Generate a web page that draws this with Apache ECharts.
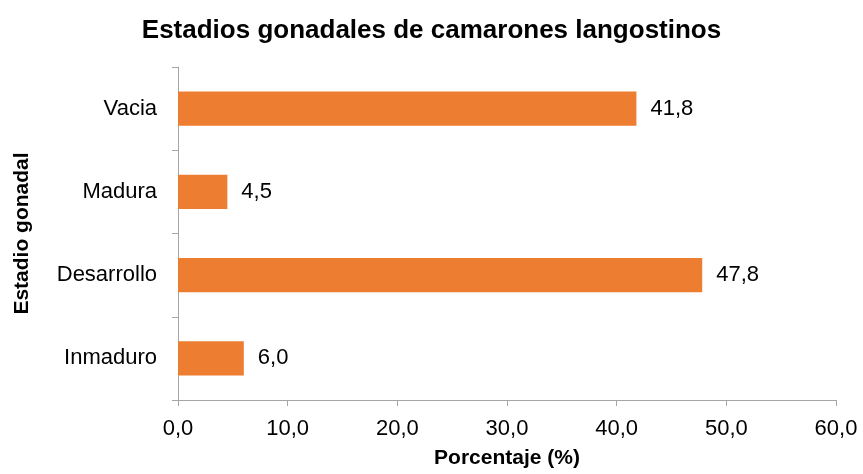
<!DOCTYPE html>
<html>
<head>
<meta charset="utf-8">
<script src="https://cdn.jsdelivr.net/npm/echarts@6/dist/echarts.min.js"></script>
<style>
  html, body { margin: 0; padding: 0; background: #fff; }
  #chart { width: 863px; height: 474px; }
</style>
</head>
<body>
<div id="chart"></div>
<script>
const titleText = 'Estadios gonadales de camarones langostinos';
const categories = ['Inmaduro', 'Desarrollo', 'Madura', 'Vacia'];
const values = [6.0, 47.8, 4.5, 41.8];
const xTicks = [0, 10, 20, 30, 40, 50, 60];
const xAxisName = 'Porcentaje (%)';
const yAxisName = 'Estadio gonadal';

const fmt = v => Number(v).toFixed(1).replace('.', ',');
const font = '"Liberation Sans", Arial, sans-serif';
const axisColor = '#a6a6a6';

const chart = echarts.init(document.getElementById('chart'));
chart.setOption({
  animation: false,
  backgroundColor: '#ffffff',
  title: {
    text: titleText,
    left: 'center',
    top: 13,
    textStyle: { fontFamily: font, fontSize: 26, fontWeight: 'bold', color: '#000' }
  },
  grid: { left: 178, right: 27, top: 67, bottom: 71, containLabel: false },
  xAxis: {
    type: 'value',
    min: xTicks[0],
    max: xTicks[xTicks.length - 1],
    interval: xTicks[1] - xTicks[0],
    name: xAxisName,
    nameLocation: 'middle',
    nameGap: 48,
    nameTextStyle: { fontFamily: font, fontSize: 21, fontWeight: 'bold', color: '#000' },
    axisLine: { show: true, lineStyle: { color: axisColor, width: 1 } },
    axisTick: { show: true, length: 6, lineStyle: { color: axisColor } },
    splitLine: { show: false },
    axisLabel: {
      margin: 18,
      fontFamily: font, fontSize: 22, color: '#000',
      formatter: v => fmt(v)
    }
  },
  yAxis: {
    type: 'category',
    data: categories,
    name: yAxisName,
    nameLocation: 'middle',
    nameGap: 145,
    nameRotate: 90,
    nameTextStyle: { fontFamily: font, fontSize: 21, fontWeight: 'bold', color: '#000' },
    axisLine: { show: true, lineStyle: { color: axisColor, width: 1 } },
    axisTick: { show: true, length: 6, lineStyle: { color: axisColor } },
    axisLabel: { margin: 21, fontFamily: font, fontSize: 22, color: '#000' }
  },
  series: [{
    type: 'bar',
    data: values,
    barCategoryGap: '59%',
    itemStyle: { color: '#ED7D31' },
    label: {
      show: true,
      position: 'right',
      distance: 14,
      fontFamily: font, fontSize: 22, color: '#000',
      formatter: p => fmt(p.value)
    }
  }]
});
</script>
</body>
</html>
